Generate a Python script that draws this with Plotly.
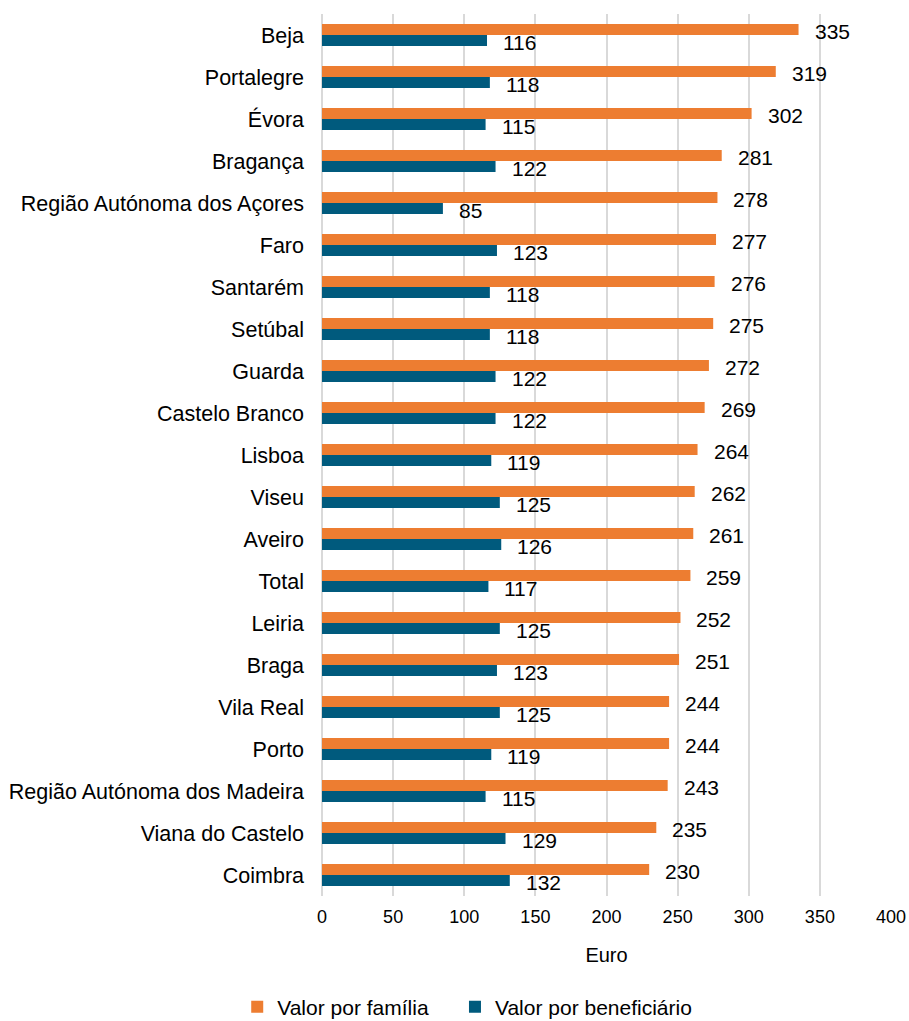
import plotly.graph_objects as go

categories = ["Beja", "Portalegre", "Évora", "Bragança", "Região Autónoma dos Açores",
              "Faro", "Santarém", "Setúbal", "Guarda", "Castelo Branco", "Lisboa",
              "Viseu", "Aveiro", "Total", "Leiria", "Braga", "Vila Real", "Porto",
              "Região Autónoma dos Madeira", "Viana do Castelo", "Coimbra"]
valor_familia = [335, 319, 302, 281, 278, 277, 276, 275, 272, 269, 264, 262, 261, 259,
                 252, 251, 244, 244, 243, 235, 230]
valor_beneficiario = [116, 118, 115, 122, 85, 123, 118, 118, 122, 122, 119, 125, 126, 117,
                      125, 123, 125, 119, 115, 129, 132]
x_ticks = [0, 50, 100, 150, 200, 250, 300, 350, 400]

ORANGE = "#ED7D31"
BLUE = "#005A7D"
FONT = "Liberation Sans, Arial, sans-serif"

fig = go.Figure()
fig.add_trace(go.Bar(y=categories, x=valor_familia, orientation="h", name="Valor por família",
                     marker=dict(color=ORANGE, line=dict(width=0)), legend="legend"))
fig.add_trace(go.Bar(y=categories, x=valor_beneficiario, orientation="h", name="Valor por beneficiário",
                     marker=dict(color=BLUE, line=dict(width=0)), legend="legend2"))

annotations = []
for c, v in zip(categories, valor_familia):
    annotations.append(dict(x=v, y=c, text=str(v), showarrow=False, xanchor="left",
                            yanchor="middle", xshift=14, yshift=4,
                            font=dict(family=FONT, size=21, color="#000000")))
for c, v in zip(categories, valor_beneficiario):
    annotations.append(dict(x=v, y=c, text=str(v), showarrow=False, xanchor="left",
                            yanchor="middle", xshift=14, yshift=-7,
                            font=dict(family=FONT, size=21, color="#000000")))

legend_common = dict(orientation="h", xanchor="left", y=-0.126, yanchor="middle",
                     font=dict(family=FONT, size=21), itemwidth=30,
                     bgcolor="rgba(0,0,0,0)")

fig.update_layout(
    width=909, height=1021,
    margin=dict(l=322, r=18, t=14, b=125, autoexpand=False),
    paper_bgcolor="white", plot_bgcolor="white",
    barmode="group", bargap=0.476, bargroupgap=0,
    font=dict(family=FONT, size=21, color="#000000"),
    annotations=annotations,
    showlegend=True,
    legend=dict(x=-0.149, **legend_common),
    legend2=dict(x=0.2337, **legend_common),
    xaxis=dict(range=[0, 400], tickvals=x_ticks, showgrid=True, gridcolor="#D9D9D9",
               gridwidth=2, zeroline=True, zerolinecolor="#D9D9D9", zerolinewidth=2,
               showline=False, ticks="", tickfont=dict(size=18), ticklabelstandoff=8,
               title=dict(text="Euro", font=dict(size=20), standoff=21)),
    yaxis=dict(categoryorder="array", categoryarray=categories, autorange="reversed",
               showgrid=False, showline=False, ticks="", tickfont=dict(size=21.5),
               ticklabelstandoff=17),
)

fig.write_html("out.html")
